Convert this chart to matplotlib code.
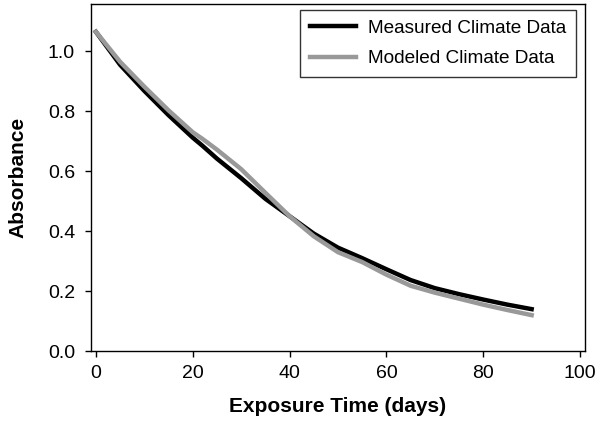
import matplotlib
matplotlib.use('Agg')
import matplotlib.pyplot as plt
import numpy as np

plt.rcParams['font.family'] = ['Liberation Sans', 'DejaVu Sans']

# exposure time in days
days = [0, 5, 10, 15, 20, 22, 25, 30, 35, 40, 45, 50, 55, 60, 65, 70, 75, 80, 85, 90]
measured = [1.065, 0.955, 0.868, 0.787, 0.712, 0.685, 0.642, 0.577, 0.508, 0.45, 0.392,
            0.345, 0.31, 0.273, 0.237, 0.21, 0.19, 0.172, 0.155, 0.14]
modeled = [1.065, 0.965, 0.882, 0.803, 0.73, 0.708, 0.672, 0.607, 0.528, 0.45, 0.383,
           0.33, 0.297, 0.255, 0.218, 0.195, 0.175, 0.155, 0.137, 0.12]

fig = plt.figure(figsize=(6.03, 4.21), dpi=100)
ax = fig.add_axes([0.151, 0.166, 0.819, 0.824])

ax.plot(days, measured, color='black', lw=3.2, label='Measured Climate Data')
ax.plot(days, modeled, color='#999999', lw=3.2, label='Modeled Climate Data')

ax.set_xlim(-1, 101)
ax.set_ylim(0, 1.157)
ax.set_xticks([0, 20, 40, 60, 80, 100])
ax.set_yticks([0.0, 0.2, 0.4, 0.6, 0.8, 1.0])
ax.set_yticklabels(['0.0', '0.2', '0.4', '0.6', '0.8', '1.0'])
ax.tick_params(labelsize=14, length=4, width=1, direction='out')
ax.tick_params(axis='x', pad=6)
ax.tick_params(axis='y', pad=7.5)

ax.set_xlabel('Exposure Time (days)', fontsize=15, fontweight='bold', labelpad=11)
ax.set_ylabel('Absorbance', fontsize=15, fontweight='bold', labelpad=15)

for s in ax.spines.values():
    s.set_linewidth(1)

leg = ax.legend(loc='upper right', bbox_to_anchor=(576 / 603, 1 - 10 / 421),
                bbox_transform=fig.transFigure, fontsize=13.7, frameon=True, fancybox=False,
                edgecolor='black', handlelength=2.45, borderaxespad=0,
                borderpad=0.5, handletextpad=0.62, labelspacing=0.7)
leg.get_frame().set_linewidth(1)

fig.savefig('out.png', dpi=100)
